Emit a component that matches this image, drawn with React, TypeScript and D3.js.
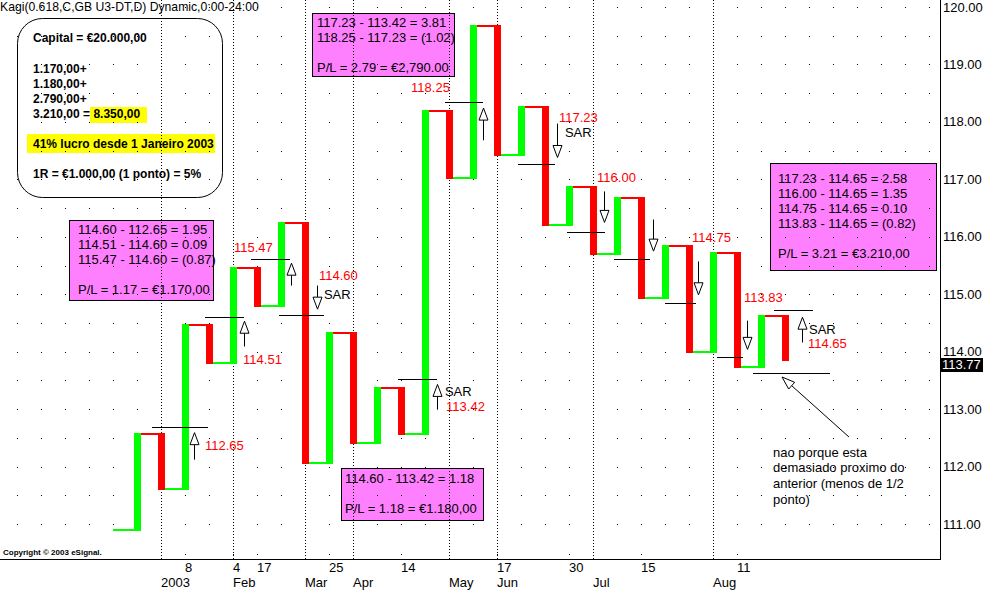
import React from 'react';
import * as d3 from 'd3';

const W = 983;
const H = 591;

// Kagi data: starting point (column, price) then successive turning prices
const kagiStartCol = 4;
const kagiStartPrice = 110.87;
const kagiTurns = [
  112.59, 111.59, 114.48, 113.79, 115.47, 114.78, 116.25, 112.05, 114.35, 112.4,
  113.39, 112.55, 118.21, 117.01, 119.69, 117.41, 118.27, 116.19, 116.88, 115.69,
  116.69, 114.91, 115.85, 113.97, 115.73, 113.72, 114.63, 113.83,
];

const yTicks = [111, 112, 113, 114, 115, 116, 117, 118, 119, 120];
const lastPrice = 113.77;

const monthCols = [6, 9, 12, 14, 18, 20, 24, 29];
const monthLabels = ['2003', 'Feb', 'Mar', 'Apr', 'May', 'Jun', 'Jul', 'Aug'];
const dayCols = [7, 9, 10, 13, 16, 20, 23, 26, 30];
const dayLabels = ['8', '4', '17', '25', '14', '17', '30', '15', '11'];

// SAR levels: [colStart, colEnd, price]
const sarLevels: [number, number, number][] = [
  [5.63, 7.96, 112.69],
  [7.83, 9.46, 114.6],
  [9.75, 11.38, 115.61],
  [10.92, 12.79, 114.64],
  [15.88, 17.5, 113.52],
  [17.83, 19.42, 118.35],
  [20.88, 22.42, 117.26],
  [22.92, 24.5, 116.09],
  [24.88, 26.38, 115.61],
  [27.0, 28.29, 114.84],
  [29.17, 30.25, 113.9],
  [31.54, 33.17, 114.73],
  [30.67, 33.88, 113.62],
];

// Signal arrows: [col, tailPrice, tipPrice]
const sarArrows: [number, number, number][] = [
  [7.375, 112.12, 112.59],
  [9.46, 114.09, 114.53],
  [11.42, 115.15, 115.54],
  [12.5, 115.15, 114.74],
  [17.5, 112.99, 113.43],
  [19.42, 117.68, 118.24],
  [22.5, 117.97, 117.38],
  [24.46, 116.79, 116.25],
  [26.5, 116.3, 115.75],
  [28.375, 115.57, 114.99],
  [30.42, 114.54, 114.04],
  [32.71, 114.16, 114.6],
];

// Price labels: [text, col, price]
const priceLabels: [string, number, number][] = [
  ['112.65', 7.83, 112.36],
  ['114.51', 9.42, 113.87],
  ['115.47', 9.04, 115.81],
  ['114.60', 12.58, 115.32],
  ['118.25', 16.42, 118.6],
  ['113.42', 17.88, 113.04],
  ['117.23', 22.58, 118.07],
  ['116.00', 24.17, 117.03],
  ['114.75', 28.13, 115.98],
  ['113.83', 30.29, 114.94],
  ['114.65', 32.96, 114.15],
];
const sarLabels: [number, number][] = [
  [12.79, 115.0],
  [17.83, 113.3],
  [22.83, 117.82],
  [33.0, 114.39],
];

const boxA = ['114.60 - 112.65 = 1.95', '114.51 - 114.60 = 0.09', '115.47 - 114.60 = (0.87)', '', 'P/L = 1.17 = €1.170,00'];
const boxB = ['117.23 - 113.42 = 3.81', '118.25 - 117.23 = (1.02)', '', 'P/L = 2.79 = €2,790.00'];
const boxC = ['117.23 - 114.65 = 2.58', '116.00 - 114.65 = 1.35', '114.75 - 114.65 = 0.10', '113.83 - 114.65 = (0.82)', '', 'P/L = 3.21 = €3.210,00'];
const boxD = ['114.60 - 113.42 = 1.18', '', 'P/L = 1.18 = €1.180,00'];
const noteLines = ['nao porque esta', 'demasiado proximo do', 'anterior (menos de 1/2', 'ponto)'];

const GREEN = '#00FF00';
const RED = '#FF0000';
const PINK = '#FF80FF';
const FONT = '"Liberation Sans", Arial, sans-serif';

const x = d3.scaleLinear().domain([0, 38]).range([17, 929]);
const y = d3.scaleLinear().domain([111, 120]).range([524, 7]);

function Arrow({ cx, y1, y2 }: { cx: number; y1: number; y2: number }) {
  const dir = y2 < y1 ? 1 : -1;
  const hh = 12;
  const hw = 4.5;
  const base = y2 + dir * hh;
  return (
    <g>
      <line x1={cx} x2={cx} y1={y1} y2={base} stroke="#000" strokeWidth={1} />
      <polygon points={`${cx},${y2} ${cx - hw},${base} ${cx + hw},${base}`} fill="#fff" stroke="#000" strokeWidth={1} />
    </g>
  );
}

function PinkBox({ bx, by, bw, bh, lines, tx, ty }: { bx: number; by: number; bw: number; bh: number; lines: string[]; tx: number; ty: number }) {
  return (
    <g>
      <rect x={bx + 0.5} y={by + 0.5} width={bw} height={bh} fill={PINK} stroke="#000" strokeWidth={1} />
      {lines.map((l, i) => (
        <text key={i} x={tx} y={ty + i * 15} fontSize={13} dominantBaseline="central" fill="#000">
          {l}
        </text>
      ))}
    </g>
  );
}

export default function App() {
  const pts = [kagiStartPrice, ...kagiTurns];
  const connectors: JSX.Element[] = [];
  const bars: JSX.Element[] = [];
  kagiTurns.forEach((to, i) => {
    const from = pts[i];
    const col = kagiStartCol + 1 + i;
    const up = to > from;
    const color = up ? GREEN : RED;
    const yf = y(from);
    connectors.push(
      <rect key={'c' + i} x={x(col - 1)} width={x(col) - x(col - 1)} y={up ? yf - 2 : yf} height={2} fill={color} />
    );
    const top = y(Math.max(from, to));
    const bot = y(Math.min(from, to));
    bars.push(<rect key={'b' + i} x={x(col) - 3.5} width={7} y={top} height={bot - top} fill={color} />);
  });

  const gridRows = d3.range(111, 120.01, 0.5);
  const gridCols = d3.range(0, 39).filter((c) => !monthCols.includes(c));

  return (
    <svg width={W} height={H} style={{ position: 'absolute', left: 0, top: 0, background: '#fff' }} fontFamily={FONT}>
      <rect x={0} y={0} width={W} height={H} fill="#fff" />

      {/* title */}
      <text x={0} y={7} fontSize={12.2} dominantBaseline="central">Kagi(0.618,C,GB U3-DT,D) Dynamic,0:00-24:00</text>

      {/* capital box */}
      <rect x={17.5} y={18.5} width={205} height={179} rx={25} ry={25} fill="#fff" stroke="#000" strokeWidth={1} />
      <rect x={90} y={107} width={57} height={16} fill="#FFFF00" />
      <rect x={27} y={134} width={188} height={19} fill="#FFFF00" />
      <g fontSize={12} fontWeight="bold">
        <text x={33} y={38} dominantBaseline="central">Capital = €20.000,00</text>
        <text x={33} y={69} dominantBaseline="central">1.170,00+</text>
        <text x={33} y={84} dominantBaseline="central">1.180,00+</text>
        <text x={33} y={99} dominantBaseline="central">2.790,00+</text>
        <text x={33} y={114} dominantBaseline="central">3.210,00 = 8.350,00</text>
        <text x={33} y={144} dominantBaseline="central">41% lucro desde 1 Janeiro 2003</text>
        <text x={33} y={174} dominantBaseline="central">1R = €1.000,00 (1 ponto) = 5%</text>
      </g>

      {/* pink boxes */}
      <PinkBox bx={69} by={220} bw={144} bh={80} lines={boxA} tx={78} ty={229} />
      <PinkBox bx={312} by={13} bw={142} bh={63} lines={boxB} tx={317} ty={22} />
      <PinkBox bx={770} by={163} bw={166} bh={107} lines={boxC} tx={778} ty={178} />
      <PinkBox bx={341} by={468} bw={142} bh={52} lines={boxD} tx={345} ty={478} />

      {/* grid dots */}
      <g fill="#000">
        {gridRows.map((r) =>
          gridCols.map((c) => <rect key={r + '-' + c} x={Math.round(x(c))} y={Math.round(y(r))} width={1} height={1} />)
        )}
        {dayCols.map((c, i) => (
          <rect key={'dt' + i} x={Math.round(x(c))} y={554} width={1} height={1} />
        ))}
      </g>
      {/* month dotted lines */}
      {monthCols.map((c, i) => (
        <line key={'m' + i} x1={Math.round(x(c)) + 0.5} x2={Math.round(x(c)) + 0.5} y1={0} y2={559} stroke="#000" strokeWidth={1} strokeDasharray="1,2" />
      ))}

      {/* kagi */}
      <g shapeRendering="crispEdges">
        {connectors}
        {bars}
      </g>

      {/* SAR levels */}
      <g shapeRendering="crispEdges">
        {sarLevels.map(([c1, c2, p], i) => (
          <line key={'s' + i} x1={x(c1)} x2={x(c2)} y1={Math.round(y(p)) + 0.5} y2={Math.round(y(p)) + 0.5} stroke="#000" strokeWidth={1} />
        ))}
      </g>
      {sarArrows.map(([c, tail, tip], i) => (
        <Arrow key={'a' + i} cx={Math.round(x(c)) + 0.5} y1={y(tail)} y2={y(tip)} />
      ))}

      {/* labels */}
      {priceLabels.map(([t, c, p], i) => (
        <text key={'pl' + i} x={x(c)} y={y(p)} fontSize={13} fill={RED} dominantBaseline="central">{t}</text>
      ))}
      {sarLabels.map(([c, p], i) => (
        <text key={'sl' + i} x={x(c)} y={y(p)} fontSize={13} fill="#000" dominantBaseline="central">SAR</text>
      ))}

      {/* note arrow */}
      <g>
        {(() => {
          const tx = 782, ty = 377, fx = 849, fy = 437;
          const ang = Math.atan2(fy - ty, fx - tx);
          const L = 13, hw = 4.5;
          const bx = tx + L * Math.cos(ang), by = ty + L * Math.sin(ang);
          const px = -Math.sin(ang) * hw, py = Math.cos(ang) * hw;
          return (
            <g>
              <line x1={fx} y1={fy} x2={bx} y2={by} stroke="#000" strokeWidth={1} />
              <polygon points={`${tx},${ty} ${bx + px},${by + py} ${bx - px},${by - py}`} fill="#fff" stroke="#000" strokeWidth={1} />
            </g>
          );
        })()}
      </g>
      {noteLines.map((l, i) => (
        <text key={'n' + i} x={773} y={452 + i * 15.7} fontSize={13} dominantBaseline="central">{l}</text>
      ))}

      {/* copyright */}
      <text x={3} y={552} fontSize={8} fontWeight="bold" dominantBaseline="central">Copyright © 2003 eSignal.</text>

      {/* axes */}
      <g shapeRendering="crispEdges">
        <line x1={940.5} x2={940.5} y1={0} y2={559} stroke="#000" />
        <line x1={0} x2={941} y1={559.5} y2={559.5} stroke="#000" />
      </g>
      {yTicks.map((t) => (
        <text key={'yt' + t} x={943} y={y(t)} fontSize={13} dominantBaseline="central">{t.toFixed(2)}</text>
      ))}
      <rect x={941} y={Math.round(y(lastPrice)) - 7} width={42} height={14} fill="#000" />
      <text x={942} y={y(lastPrice)} fontSize={13} fill="#fff" dominantBaseline="central">{lastPrice.toFixed(2)}</text>

      {dayCols.map((c, i) => (
        <text key={'d' + i} x={Math.round(x(c))} y={567} fontSize={13} dominantBaseline="central">{dayLabels[i]}</text>
      ))}
      {monthCols.map((c, i) => (
        <text key={'ml' + i} x={Math.round(x(c))} y={582} fontSize={13} dominantBaseline="central">{monthLabels[i]}</text>
      ))}
    </svg>
  );
}
